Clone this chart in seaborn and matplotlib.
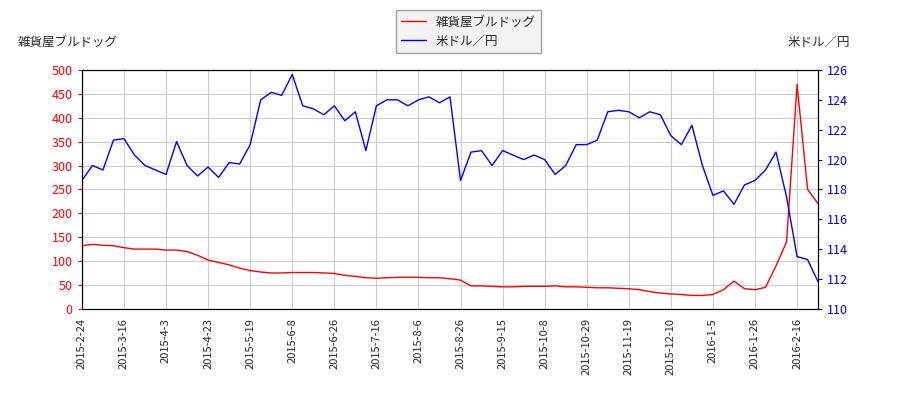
import numpy as np
import matplotlib
matplotlib.use("Agg")
import matplotlib.pyplot as plt
import seaborn as sns

sns.set_style("white")
plt.rcParams['font.family'] = ['Noto Sans CJK JP', 'DejaVu Sans']

# trading-day index step for sampled points
step = 3.5
stock = [132, 135, 133, 132, 128, 125, 125, 125, 123, 123, 120, 112, 102, 97, 92, 85, 80, 77, 75, 75,
         76, 76, 76, 75, 74, 70, 68, 65, 64, 65, 66, 66, 66, 65, 65, 63, 60, 48, 48, 47,
         46, 46, 47, 47, 47, 48, 46, 46, 45, 44, 44, 43, 42, 40, 36, 33, 31, 30, 28, 28,
         30, 40, 58, 42, 40, 45, 90, 140, 470, 250, 220]
usdjpy = [118.6, 119.6, 119.3, 121.3, 121.4, 120.3, 119.6, 119.3, 119.0, 121.2, 119.6, 118.9, 119.5, 118.8,
          119.8, 119.7, 121.0, 124.0, 124.5, 124.3, 125.7, 123.6, 123.4, 123.0, 123.6, 122.6, 123.2, 120.6,
          123.6, 124.0, 124.0, 123.6, 124.0, 124.2, 123.8, 124.2, 118.6, 120.5, 120.6, 119.6, 120.6, 120.3,
          120.0, 120.3, 120.0, 119.0, 119.6, 121.0, 121.0, 121.3, 123.2, 123.3, 123.2, 122.8, 123.2, 123.0,
          121.6, 121.0, 122.3, 119.6, 117.6, 117.9, 117.0, 118.3, 118.6, 119.3, 120.5, 117.5, 113.5, 113.3, 111.8]
tick_labels = ["2015-2-24", "2015-3-16", "2015-4-3", "2015-4-23", "2015-5-19", "2015-6-8", "2015-6-26",
               "2015-7-16", "2015-8-6", "2015-8-26", "2015-9-15", "2015-10-8", "2015-10-29", "2015-11-19",
               "2015-12-10", "2016-1-5", "2016-1-26", "2016-2-16"]

x = np.arange(len(stock)) * step

fig, ax = plt.subplots(figsize=(9, 4), dpi=100)
fig.subplots_adjust(left=0.091, right=0.909, top=0.825, bottom=0.228)
ax2 = ax.twinx()

sns.lineplot(x=x, y=stock, ax=ax, color="red", linewidth=1, label="雑貨屋ブルドッグ", legend=False)
sns.lineplot(x=x, y=usdjpy, ax=ax2, color="blue", linewidth=1, label="米ドル／円", legend=False)

ax.set_xlim(0, x[-1])
ax.set_ylim(0, 500)
ax.set_yticks(range(0, 501, 50))
ax2.set_ylim(110, 126)
ax2.set_yticks(range(110, 127, 2))
ax.set_xticks(np.arange(len(tick_labels)) * 14)
ax.set_xticklabels(tick_labels, rotation=90, fontsize=8)
ax.tick_params(axis="y", colors="red", labelsize=9, length=3)
ax2.tick_params(axis="y", colors="blue", labelsize=9, length=3)
ax.tick_params(axis="x", length=3)
for a in (ax, ax2):
    for s in a.spines.values():
        s.set_color("black")
ax.grid(True, color="#cccccc", linewidth=0.8)

fig.text(0.02, 0.885, "雑貨屋ブルドッグ", fontsize=9)
fig.text(0.945, 0.885, "米ドル／円", fontsize=9, ha="right")

h1, l1 = ax.get_legend_handles_labels()
h2, l2 = ax2.get_legend_handles_labels()
fig.legend(h1 + h2, l1 + l2, loc="upper center", bbox_to_anchor=(0.52, 0.99),
           fontsize=9, fancybox=False, edgecolor="#888888", facecolor="#f0f0f0")

fig.savefig("out.png", dpi=100)
